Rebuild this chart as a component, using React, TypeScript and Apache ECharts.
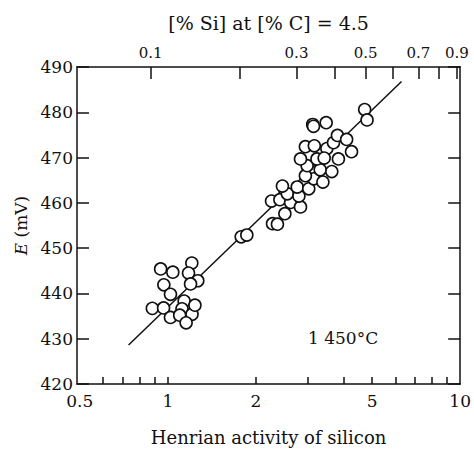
import React, { useEffect, useRef } from "react";
import * as echarts from "echarts";

// Henrian activity of silicon (x) and E in mV (y)
const activity: number[] = [
  0.945, 1.04, 1.208, 1.177, 1.266, 1.196, 0.969, 1.021, 0.885, 0.967, 1.021, 1.137, 1.118, 1.098, 1.21, 1.238, 1.155,
  1.782, 1.863, 2.263, 2.281, 2.371, 2.518, 2.417, 2.63, 2.514, 2.843, 2.563, 2.808, 2.466, 2.771, 3.034, 3.155, 3.392,
  2.955, 2.995, 3.321, 3.638, 2.843, 3.237, 3.832, 2.955, 3.17, 3.499, 3.687, 3.803, 4.089, 4.25, 3.13, 3.15, 3.48,
  4.713, 4.802, 3.426,
];
const emf: number[] = [
  445.4, 444.7, 446.7, 444.5, 442.8, 442.1, 441.9, 439.8, 436.7, 436.8, 434.7, 438.3, 436.6, 435.2, 435.4, 437.4, 433.5,
  452.5, 452.9, 460.4, 455.4, 455.3, 462.2, 460.7, 460.1, 457.6, 459.1, 462.0, 461.5, 463.7, 463.5, 463.1, 465.3, 464.6,
  466.0, 468.2, 467.3, 466.9, 469.7, 469.7, 469.7, 472.4, 472.6, 472.0, 473.3, 474.9, 474.0, 471.3, 477.3, 476.9, 477.7,
  480.6, 478.3, 469.9,
];

// fitted line end points
const lineActivity: number[] = [0.734, 6.3];
const lineEmf: number[] = [428.6, 486.8];

// bottom axis
const xMinActivity = 0.489;
const xMaxActivity = 10;
const xLabelValues: number[] = [0.5, 1, 2, 5, 10];
const xTickValues: number[] = [0.6, 0.7, 0.8, 0.9, 1, 2, 3, 4, 5, 6, 7, 8, 9];

// top axis: [% Si] ticks and the activity they correspond to
const siTicks: number[] = [0.1, 0.2, 0.3, 0.4, 0.5, 0.6, 0.7, 0.8, 0.9];
const siActivity: number[] = [0.874, 1.761, 2.755, 3.733, 4.75, 5.876, 7.195, 8.45, 9.75];
const siLabels: number[] = [0.1, 0.3, 0.5, 0.7, 0.9];

const yMin = 420;
const yMax = 490;
const yStep = 10;

const FONT = "'DejaVu Serif', 'Liberation Serif', serif";
const INK = "#111";

export default function App() {
  const ref = useRef<HTMLDivElement>(null);

  useEffect(() => {
    if (!ref.current) return;
    const chart = echarts.init(ref.current, undefined, { renderer: "svg" });
    const lg = (v: number) => Math.log10(v);
    const xmin = lg(xMinActivity);
    const xmax = lg(xMaxActivity);

    const points = activity.map((a, i) => [lg(a), emf[i]]);
    const line = lineActivity.map((a, i) => [lg(a), lineEmf[i]]);

    const siLabelLogs = siLabels.map((s) => lg(siActivity[siTicks.indexOf(s)]));

    chart.setOption({
      animation: false,
      grid: { left: 77, right: 9, top: 67, bottom: 64 },
      xAxis: [
        {
          type: "value",
          position: "bottom",
          min: xmin,
          max: xmax,
          name: "Henrian activity of silicon",
          nameLocation: "middle",
          nameGap: 44,
          nameTextStyle: { fontFamily: FONT, fontSize: 18, color: INK },
          axisLine: { show: true, onZero: false, lineStyle: { color: INK, width: 1.5 } },
          axisTick: {
            show: true,
            inside: true,
            length: 7,
            customValues: xTickValues.map(lg),
            lineStyle: { color: INK, width: 1.5 },
          },
          axisLabel: {
            show: true,
            margin: 8,
            customValues: xLabelValues.map(lg),
            formatter: (v: number) => String(Number(Math.pow(10, v).toPrecision(3))),
            fontFamily: FONT,
            fontSize: 17,
            color: INK,
          },
          splitLine: { show: false },
        },
        {
          type: "value",
          position: "top",
          min: xmin,
          max: xmax,
          name: "[% Si] at [% C] = 4.5",
          nameLocation: "middle",
          nameGap: 35,
          nameTextStyle: { fontFamily: FONT, fontSize: 19, color: INK },
          axisLine: { show: true, onZero: false, lineStyle: { color: INK, width: 1.5 } },
          axisTick: {
            show: true,
            inside: true,
            length: 12,
            customValues: siActivity.map(lg),
            lineStyle: { color: INK, width: 1.5 },
          },
          axisLabel: {
            show: true,
            margin: 7,
            customValues: siLabelLogs,
            formatter: (v: number) => {
              let best = 0;
              for (let i = 0; i < siActivity.length; i++) {
                if (Math.abs(lg(siActivity[i]) - v) < Math.abs(lg(siActivity[best]) - v)) best = i;
              }
              return String(siTicks[best]);
            },
            fontFamily: FONT,
            fontSize: 15,
            color: INK,
          },
          splitLine: { show: false },
        },
      ],
      yAxis: [
        {
          type: "value",
          position: "left",
          min: yMin,
          max: yMax,
          interval: yStep,
          name: "{i|E} (mV)",
          nameLocation: "middle",
          nameGap: 45,
          nameRotate: 90,
          nameTextStyle: {
            fontFamily: FONT,
            fontSize: 17,
            color: INK,
            rich: { i: { fontFamily: FONT, fontSize: 17, fontStyle: "italic", color: INK } },
          },
          axisLine: { show: true, onZero: false, lineStyle: { color: INK, width: 1.5 } },
          axisTick: { show: true, inside: true, length: 12, lineStyle: { color: INK, width: 1.5 } },
          axisLabel: { show: true, margin: 4, fontFamily: FONT, fontSize: 17, color: INK },
          splitLine: { show: false },
        },
        {
          type: "value",
          position: "right",
          min: yMin,
          max: yMax,
          interval: yStep,
          axisLine: { show: true, onZero: false, lineStyle: { color: INK, width: 1.5 } },
          axisTick: { show: true, inside: true, length: 12, lineStyle: { color: INK, width: 1.5 } },
          axisLabel: { show: false },
          splitLine: { show: false },
        },
      ],
      graphic: [
        {
          type: "text",
          left: 308,
          top: 329,
          style: { text: "1 450°C", fontFamily: FONT, fontSize: 17, fill: INK },
        },
      ],
      series: [
        {
          type: "line",
          data: line,
          symbol: "none",
          lineStyle: { color: INK, width: 1.5 },
          z: 1,
        },
        {
          type: "scatter",
          data: points,
          symbol: "circle",
          symbolSize: 12,
          itemStyle: { color: "#fff", borderColor: INK, borderWidth: 1.6, opacity: 1 },
          z: 2,
        },
      ],
    });
    return () => chart.dispose();
  }, []);

  return (
    <div
      ref={ref}
      style={{ position: "fixed", left: 0, top: 0, width: 474, height: 451, background: "#fff" }}
    />
  );
}
